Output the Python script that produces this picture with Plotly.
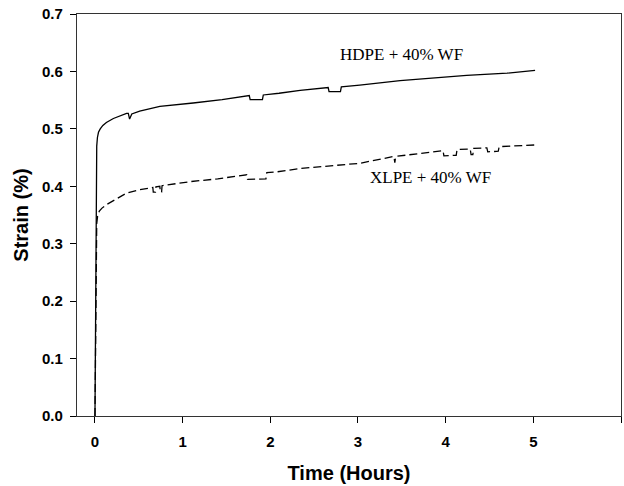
import plotly.graph_objects as go

# HDPE + 40% WF (solid)
hdpe_t = [0, 0.006, 0.01, 0.015, 0.02, 0.028, 0.04, 0.06, 0.09, 0.13, 0.21, 0.36, 0.38, 0.395,
          0.42, 0.51, 0.74, 1.12, 1.45, 1.76, 1.77, 1.91, 1.92, 2.1, 2.34, 2.66, 2.67, 2.80, 2.81,
          3.02, 3.48, 4.24, 4.7, 5.02]
hdpe_s = [0, 0.15, 0.35, 0.44, 0.47, 0.485, 0.494, 0.500, 0.506, 0.511, 0.518, 0.527, 0.527, 0.517,
          0.526, 0.531, 0.539, 0.545, 0.551, 0.558, 0.551, 0.551, 0.559, 0.562, 0.567, 0.572, 0.565, 0.565, 0.573,
          0.576, 0.584, 0.593, 0.597, 0.602]

# XLPE + 40% WF (dashed)
xlpe_t = [0, 0.006, 0.012, 0.02, 0.03, 0.05, 0.08, 0.13, 0.36, 0.51, 0.66, 0.665, 0.69, 0.695, 0.74,
          0.745, 0.76, 0.765, 1.08, 1.4, 1.73, 1.74, 1.95, 1.96, 2.07, 2.34, 3.02, 3.36, 3.41, 3.42,
          3.43, 3.97, 3.98, 4.12, 4.13, 4.28, 4.29, 4.31, 4.32, 4.47, 4.48, 4.60, 4.61, 5.02]
xlpe_s = [0, 0.15, 0.3, 0.335, 0.348, 0.357, 0.362, 0.368, 0.388, 0.394, 0.398, 0.39, 0.39, 0.399, 0.40,
          0.39, 0.39, 0.401, 0.408, 0.413, 0.42, 0.412, 0.413, 0.424, 0.425, 0.431, 0.44, 0.451, 0.452, 0.441,
          0.452, 0.462, 0.453, 0.454, 0.464, 0.465, 0.455, 0.455, 0.466, 0.467, 0.46, 0.461, 0.469, 0.472]

x_ticks = [0, 1, 2, 3, 4, 5, 6]
y_ticks = [0.0, 0.1, 0.2, 0.3, 0.4, 0.5, 0.6, 0.7]

labels = ["HDPE + 40% WF", "XLPE + 40% WF"]
label_x = [3.5, 3.83]
label_y = [0.630, 0.416]

fig = go.Figure()
fig.add_trace(go.Scatter(x=hdpe_t, y=hdpe_s, mode="lines", line_shape="linear",
                         line=dict(color="black", width=1.3), name=labels[0]))
fig.add_trace(go.Scatter(x=xlpe_t, y=xlpe_s, mode="lines",
                         line=dict(color="black", width=1.3, dash="8px,4px"), name=labels[1]))

for txt, ax, ay in zip(labels, label_x, label_y):
    fig.add_annotation(x=ax, y=ay, text=txt, showarrow=False,
                       font=dict(family="Liberation Serif", size=17, color="black"))

axis_common = dict(showgrid=False, zeroline=False, showline=True, linecolor="#333333",
                   linewidth=1.2, mirror=True, ticks="outside", ticklen=6, tickwidth=1,
                   tickcolor="black",
                   tickfont=dict(family="Liberation Sans", size=15, color="black", weight="bold"))

fig.update_xaxes(range=[-0.205, 6], tickvals=x_ticks, ticktext=[str(v) for v in x_ticks],
                 ticklabelstandoff=6,
                 title=dict(text="<b>Time (Hours)</b>", standoff=16,
                            font=dict(family="Liberation Sans", size=20, color="black")),
                 **axis_common)
fig.update_yaxes(range=[0, 0.7], tickvals=y_ticks, ticktext=[f"{v:.1f}" for v in y_ticks],
                 ticklabelstandoff=4,
                 title=dict(text="<b>Strain (%)</b>", standoff=8,
                            font=dict(family="Liberation Sans", size=20, color="black")),
                 **axis_common)

fig.update_layout(width=624, height=486, margin=dict(l=77, r=3, t=14, b=70),
                  plot_bgcolor="white", paper_bgcolor="white", showlegend=False)

fig.write_html("out.html")
